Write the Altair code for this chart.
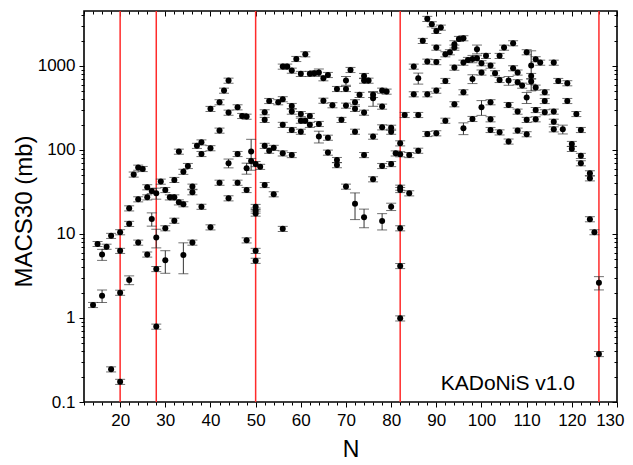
import altair as alt
import pandas as pd

# Neutron number N and MACS30 values (mb)
N = [14, 15, 16, 16, 17, 18, 18, 20, 20, 20, 20, 22, 22, 22, 23, 24, 24, 24, 25,
     26, 26, 26, 27, 27, 28, 28, 28, 28, 29, 30, 30, 30, 31, 32, 32, 32, 33, 33,
     34, 34, 34, 35, 36, 36, 36, 37, 38, 38, 38, 40, 40, 40, 42, 42, 42, 43,
     44, 44, 44, 44, 46, 46, 46, 47, 48, 48, 48, 48, 49, 49,
     50, 50, 50, 50, 50, 50, 51,
     52, 52, 52, 52, 53, 53, 54, 54, 55, 56, 56, 56, 56, 56, 57,
     58, 58, 58, 58, 58, 59, 60, 60, 60, 60, 61, 61, 62, 62, 62, 63,
     64, 64, 64, 65, 65, 66, 66, 66, 67, 68, 68, 68, 69,
     70, 70, 70, 70, 71, 72, 72, 72, 72, 73, 74, 74, 74, 74, 74, 75,
     76, 76, 76, 76, 78, 78, 78, 78, 78, 79, 80, 80, 80, 80, 81,
     82, 82, 82, 82, 82, 82, 82, 83, 84, 84, 85, 85, 86, 86, 86,
     87, 88, 88, 88, 88, 89, 90, 90, 90, 90, 90, 91, 92, 92, 92, 93,
     94, 94, 94, 94, 95, 96, 96, 96, 96, 97, 98, 98, 98, 99, 99,
     100, 100, 100, 101, 102, 102, 102, 102, 103, 104, 104, 104, 105,
     106, 106, 106, 107, 107, 108, 108, 108, 108, 109, 110, 110, 110, 110,
     111, 111, 111, 112, 112, 112, 112, 113, 114, 114, 114,
     116, 116, 116, 116, 117, 118, 119, 119, 120, 120, 121, 122, 122, 122,
     124, 124, 124, 125, 126, 126]
MACS30 = [1.43, 7.6, 1.84, 5.7, 7.06, 0.245, 9.5, 0.174, 2.0, 6.3, 10.5, 2.83, 13.2, 20.2, 51, 7.9, 25.9, 61.6, 59.4,
          5.7, 27.3, 36, 15.1, 32.5, 0.79, 3.83, 9.1, 30.5, 42, 4.86, 11.7, 33.4, 27.3, 14.4, 27.3, 44, 23.8, 95.5,
          5.6, 22.6, 55, 64.5, 7.9, 31.4, 36.6, 112, 21.1, 89.6, 123, 12.0, 105, 308, 40.8, 170, 370, 508,
          26.6, 69.5, 278, 668, 40.8, 89.6, 322, 254, 8.4, 33.4, 60.5, 249, 74, 95.5,
          4.8, 6.3, 17.5, 19, 21, 68, 63,
          38.3, 112, 228, 281, 98, 383, 29.7, 106, 370, 11.5, 91, 199, 402, 982, 982,
          87, 173, 286, 334, 879, 1211, 165, 223, 268, 804, 1377, 223, 199, 254, 804, 819,
          144, 204, 835, 386, 714, 93, 140, 781, 341, 66, 76, 532, 228,
          36.6, 337, 532, 668, 896, 22.8, 165, 308, 370, 452, 15.8, 87, 278, 668, 760, 668,
          44.8, 144, 413, 452, 14.3, 64.5, 186, 328, 508, 495, 21.1, 68, 165, 184, 91,
          0.99, 4.16, 11.7, 33.4, 35.6, 89, 120, 261, 30.5, 87, 460, 982, 98, 261, 714,
          1985, 155, 460, 1125, 3630, 3135, 158, 508, 1110, 1651, 2610, 2858, 223, 663, 1377, 1456,
          350, 954, 1651, 1812, 2096, 181, 486, 1094, 2137, 1179, 234, 700, 1211, 1236, 1580,
          322, 835, 1077, 1316, 173, 232, 370, 1008, 819, 162, 681, 1316, 1651,
          126, 343, 668, 939, 1863, 170, 286, 640, 835, 583, 154, 228, 420, 1456,
          650, 760, 1008, 232, 299, 552, 1202, 1094, 281, 383, 486,
          176, 217, 286, 1094, 663, 176, 383, 623, 103, 118, 268, 69.5, 85, 173,
          15, 46, 52.8, 10.5, 0.373, 2.63]
DEFAULT_ERR = 0.07
ERR_OVERRIDE = {(16, 1.84): 0.17, (16, 5.7): 0.15, (22, 2.83): 0.12, (27, 15.1): 0.18,
                (28, 9.1): 0.25, (28, 30.5): 0.15, (30, 4.86): 0.3, (34, 5.6): 0.4,
                (48, 60.5): 0.15, (49, 95.5): 0.4, (64, 144): 0.16, (64, 835): 0.1,
                (70, 668): 0.12, (72, 22.8): 0.35, (74, 15.8): 0.25, (76, 413): 0.2,
                (78, 14.3): 0.22, (80, 21.1): 0.1, (86, 714): 0.15, (94, 1812): 0.1,
                (96, 181): 0.16, (98, 700): 0.12, (98, 1211): 0.1, (99, 1580): 0.12,
                (100, 322): 0.2, (106, 668): 0.12, (110, 420): 0.15, (111, 1008): 0.5,
                (118, 176): 0.12, (126, 2.63): 0.18, (44, 69.5): 0.12}
MAGIC = [20, 28, 50, 82, 126]
X_MAJOR = list(range(20, 131, 10))
X_MINOR = [v for v in range(12, 131, 2) if v % 10 != 0]
Y_MAJOR = [0.1, 1, 10, 100, 1000]
Y_MINOR = [m * 10 ** e for e in range(-1, 4) for m in range(2, 10) if m * 10 ** e <= 4500]

err = [ERR_OVERRIDE.get((n, v), DEFAULT_ERR) for n, v in zip(N, MACS30)]
df = pd.DataFrame({
    "N": N,
    "V": MACS30,
    "lo": [v * (1 - e) for v, e in zip(MACS30, err)],
    "hi": [v * (1 + e) for v, e in zip(MACS30, err)],
})

FONT = "Liberation Sans"
xs = alt.Scale(domain=[12, 130], nice=False, zero=False)
ys = alt.Scale(type="log", domain=[0.1, 4500], nice=False)


def ax(orient, values, size, labels=False, offset=0, title=None, **kw):
    args = dict(orient=orient, values=values, tickSize=size, labels=labels, domain=False,
                grid=False, tickColor="black", tickWidth=1, offset=offset, labelFlush=False,
                labelFont=FONT, labelFontSize=17, labelColor="black",
                titleFont=FONT, titleFontWeight="normal", titleColor="black")
    args.update(kw)
    args["title"] = title
    return alt.Axis(**args)


x_bottom_major = ax("bottom", X_MAJOR, 5, labels=True, title="N", labelPadding=5,
                    labelFlush=1, labelFlushOffset=7,
                    titleFontSize=23, titleY=54, titleBaseline="alphabetic")
x_bottom_minor = ax("bottom", X_MINOR, 3)
x_top_major = ax("top", X_MAJOR, 5, offset=-5)
x_top_minor = ax("top", X_MINOR, 3, offset=-3)
y_left_major = ax("left", Y_MAJOR, 5, labels=True, title="MACS30 (mb)", labelPadding=4,
                  format="~g", titleFontSize=24, titleX=-53, titleY=200,
                  titleBaseline="alphabetic", titleAngle=270)
y_left_minor = ax("left", Y_MINOR, 3)
y_right_major = ax("right", Y_MAJOR, 5, offset=-5)
y_right_minor = ax("right", Y_MINOR, 3, offset=-3)

base = alt.Chart(df)

magic = alt.Chart(pd.DataFrame({"N": MAGIC})).mark_rule(color="#ff2b2b", strokeWidth=1.5).encode(
    x=alt.X("N:Q", scale=xs, axis=None)
)
bars = base.mark_rule(color="#333333", strokeWidth=1).encode(
    x=alt.X("N:Q", scale=xs, axis=x_bottom_minor),
    y=alt.Y("lo:Q", scale=ys, axis=y_left_minor),
    y2="hi:Q",
)
caps_lo = base.mark_tick(color="#333333", orient="horizontal", size=10, thickness=1).encode(
    x=alt.X("N:Q", scale=xs, axis=x_top_major),
    y=alt.Y("lo:Q", scale=ys, axis=y_right_major),
)
caps_hi = base.mark_tick(color="#333333", orient="horizontal", size=10, thickness=1).encode(
    x=alt.X("N:Q", scale=xs, axis=x_top_minor),
    y=alt.Y("hi:Q", scale=ys, axis=y_right_minor),
)
points = base.mark_circle(color="black", opacity=1, size=36).encode(
    x=alt.X("N:Q", scale=xs, axis=x_bottom_major),
    y=alt.Y("V:Q", scale=ys, axis=y_left_major),
)
label = alt.Chart(pd.DataFrame({"t": ["KADoNiS v1.0"]})).mark_text(
    font=FONT, fontSize=21, align="right", baseline="alphabetic", color="black"
).encode(x=alt.value(491), y=alt.value(379), text="t:N")

chart = alt.layer(magic, bars, caps_lo, caps_hi, points, label).resolve_axis(
    x="independent", y="independent"
).properties(
    width=533, height=391, autosize=alt.AutoSizeParams(type="none"),
    padding={"left": 76, "top": 3, "right": 8, "bottom": 60},
).configure_view(stroke="black", strokeWidth=1.6)

chart.save("out.html", embed_options={"renderer": "svg", "actions": False})
